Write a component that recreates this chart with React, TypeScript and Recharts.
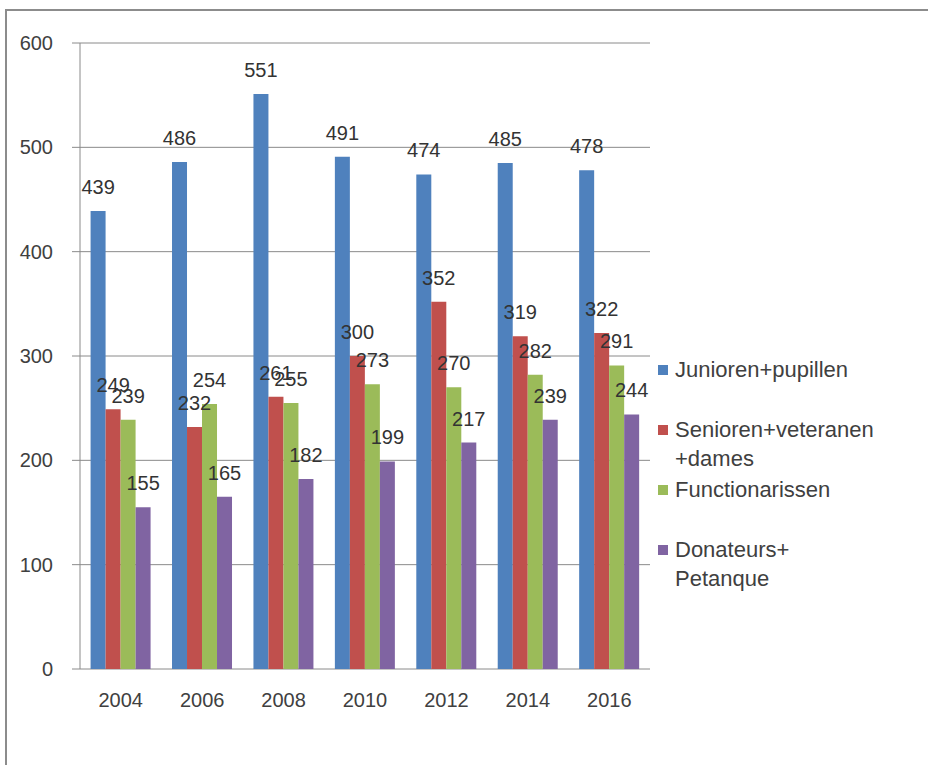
import React from 'react';
import { BarChart, Bar, XAxis, YAxis, CartesianGrid, Legend, LabelList } from 'recharts';

const years = ['2004', '2006', '2008', '2010', '2012', '2014', '2016'];
const junioren = [439, 486, 551, 491, 474, 485, 478];
const senioren = [249, 232, 261, 300, 352, 319, 322];
const functionarissen = [239, 254, 255, 273, 270, 282, 291];
const donateurs = [155, 165, 182, 199, 217, 239, 244];
const yTicks = [0, 100, 200, 300, 400, 500, 600];
const bounds = [0, 1, 2, 3, 4, 5, 6, 7];

const series = [
  { key: 'jun', name: 'Junioren+pupillen', values: junioren, color: '#4F81BD' },
  { key: 'sen', name: 'Senioren+veteranen +dames', values: senioren, color: '#C0504D' },
  { key: 'fun', name: 'Functionarissen', values: functionarissen, color: '#9BBB59' },
  { key: 'don', name: 'Donateurs+ Petanque', values: donateurs, color: '#8064A2' },
];

const data = years.map((year, i) => {
  const row: Record<string, string | number> = { year, idx: i + 0.5 };
  series.forEach((s) => {
    row[s.key] = s.values[i];
  });
  return row;
});

const FONT = '"Liberation Sans", Arial, sans-serif';
const TEXT = '#404040';
const GRID = '#8a8a8a';

const BarLabel = (props: any) => {
  const { x, y, width, value } = props;
  return (
    <text x={x + width / 2} y={y - 17} textAnchor="middle" fill="#333" fontSize={20} fontFamily={FONT}>
      {value}
    </text>
  );
};

// keep legend entries in series order
const order = (v: string) => series.findIndex((s) => s.name === v);

const LegendBox = (props: any) => {
  const payload = [...(props.payload || [])].sort((a: any, b: any) => order(a.value) - order(b.value));
  return (
    <div style={{ fontFamily: FONT, fontSize: 22, color: TEXT }}>
      {payload.map((item: any) => {
        const lines = String(item.value).split(' ');
        return (
          <div key={item.value} style={{ position: 'relative', height: 60, paddingLeft: 17 }}>
            <span
              style={{
                position: 'absolute',
                left: 0,
                top: 10,
                width: 10,
                height: 10,
                background: item.color,
              }}
            />
            {lines.map((l) => (
              <div key={l} style={{ lineHeight: '29px', whiteSpace: 'nowrap' }}>
                {l}
              </div>
            ))}
          </div>
        );
      })}
    </div>
  );
};

export default function App() {
  return (
    <div
      style={{
        position: 'absolute',
        left: 0,
        top: 0,
        width: 928,
        height: 765,
        background: '#fff',
        overflow: 'hidden',
      }}
    >
      <div
        style={{
          position: 'absolute',
          left: 5,
          top: 9,
          width: 930,
          height: 770,
          borderTop: '2px solid #8c8c8c',
          borderLeft: '2px solid #8c8c8c',
        }}
      />
      <BarChart
        width={928}
        height={765}
        data={data}
        margin={{ top: 43, right: 278, left: 0, bottom: 0 }}
        barCategoryGap="13%"
        barGap={0}
        style={{ position: 'absolute', left: 0, top: 0 }}
      >
        <CartesianGrid horizontal vertical={false} stroke={GRID} />
        <XAxis
          xAxisId="bounds"
          type="number"
          dataKey="idx"
          domain={[0, 7]}
          ticks={bounds}
          tick={false}
          height={0}
          tickSize={6}
          stroke={GRID}
          axisLine={{ stroke: GRID }}
          tickLine={{ stroke: GRID }}
        />
        <XAxis
          dataKey="year"
          axisLine={false}
          tickLine={false}
          tickSize={0}
          tickMargin={24}
          height={96}
          tick={{ fill: TEXT, fontSize: 20, fontFamily: FONT }}
        />
        <YAxis
          domain={[0, 600]}
          ticks={yTicks}
          width={80}
          tickSize={8}
          tickMargin={19}
          axisLine={{ stroke: GRID }}
          tickLine={{ stroke: GRID }}
          tick={{ fill: TEXT, fontSize: 20, fontFamily: FONT }}
        />
        <Legend
          layout="vertical"
          align="center"
          verticalAlign="middle"
          content={<LegendBox />}
          wrapperStyle={{ left: 658, top: 355, width: 265 }}
        />
        {series.map((s) => (
          <Bar key={s.key} dataKey={s.key} name={s.name} fill={s.color} isAnimationActive={false}>
            <LabelList dataKey={s.key} content={<BarLabel />} />
          </Bar>
        ))}
      </BarChart>
    </div>
  );
}
